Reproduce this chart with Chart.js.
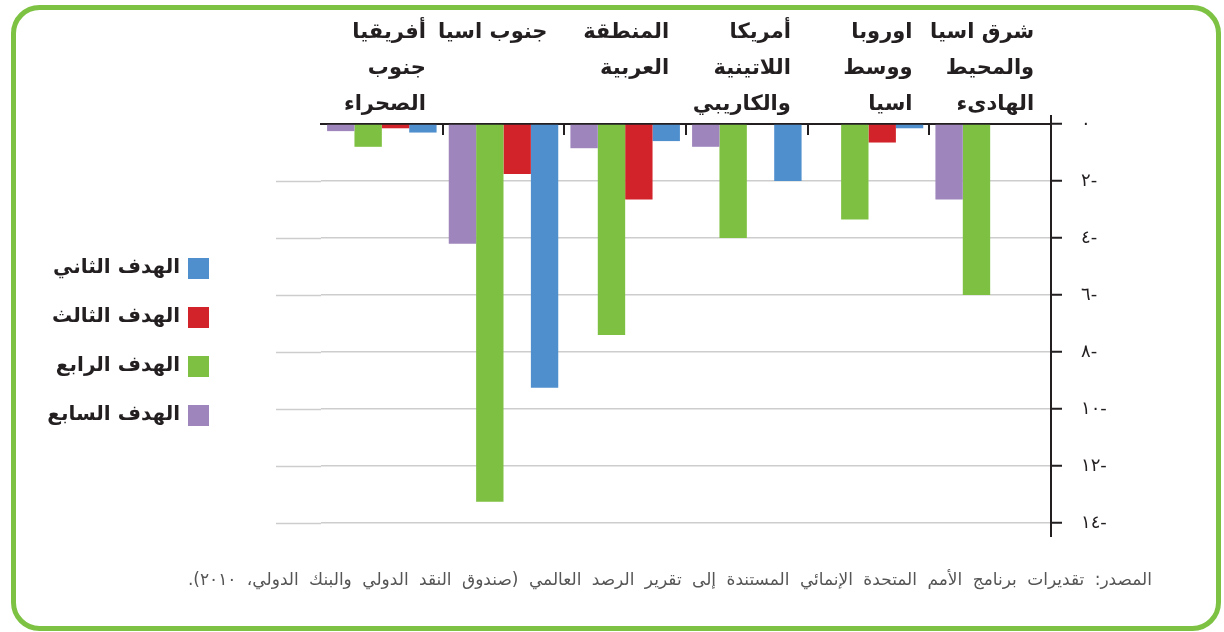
<!DOCTYPE html>
<html lang="ar">
<head>
<meta charset="UTF-8">
<title>الأهداف حسب المنطقة</title>
<style>
  html, body { margin: 0; padding: 0; background: #fff; }
</style>
</head>
<body>
<canvas id="goalsChart" width="1224" height="632"></canvas>

<script src="https://cdn.jsdelivr.net/npm/chart.js"></script>
<script>
// regions, left to right on the chart (each entry = label lines)
const regions = [
  ['أفريقيا', 'جنوب', 'الصحراء'],
  ['جنوب اسيا'],
  ['المنطقة', 'العربية'],
  ['أمريكا', 'اللاتينية', 'والكاريبي'],
  ['اوروبا', 'ووسط', 'اسيا'],
  ['شرق اسيا', 'والمحيط', 'الهادىء']
];

const goal7 = [-0.25, -4.2, -0.85, -0.8, 0, -2.65];
const goal4 = [-0.8, -13.25, -7.4, -4.0, -3.35, -6.0];
const goal3 = [-0.15, -1.75, -2.65, 0, -0.65, 0];
const goal2 = [-0.3, -9.25, -0.6, -2.0, -0.15, 0];

const seriesNames = ['الهدف السابع', 'الهدف الرابع', 'الهدف الثالث', 'الهدف الثاني'];
const seriesColors = ['#9e86bd', '#7ec142', '#d2232a', '#4f8fce'];

const yTickLabels = ['٠', '٢-', '٤-', '٦-', '٨-', '١٠-', '١٢-', '١٤-'];

const sourceNote = 'المصدر: تقديرات برنامج الأمم المتحدة الإنمائي المستندة إلى تقرير الرصد العالمي (صندوق النقد الدولي والبنك الدولي، ٢٠١٠).';

const arabicFont = '"DejaVu Sans", sans-serif';
const ink = '#231f20';

// extra drawing: frame, legend, region labels, separators, note
const extras = {
  id: 'extras',
  beforeDraw(chart) {
    const c = chart.ctx;
    c.save();
    c.fillStyle = '#fff';
    c.fillRect(0, 0, chart.width, chart.height);
    c.restore();
  },
  beforeDatasetsDraw(chart) {
    // horizontal gridlines run a bit past the first group
    const { ctx: c, chartArea, scales: { y } } = chart;
    c.save();
    c.strokeStyle = '#cdcdcd';
    c.lineWidth = 1.5;
    y.ticks.forEach(t => {
      if (t.value === 0) return;
      const py = Math.round(y.getPixelForValue(t.value)) + 0.5;
      c.beginPath();
      c.moveTo(chartArea.left - 45, py);
      c.lineTo(chartArea.left, py);
      c.stroke();
    });
    c.restore();
  },
  afterDraw(chart) {
    const { ctx: c, chartArea, scales: { x } } = chart;
    c.save();

    // short separators between region groups
    c.strokeStyle = ink;
    c.lineWidth = 2;
    for (let i = 1; i < regions.length; i++) {
      const px = Math.round((x.getPixelForValue(i - 1) + x.getPixelForValue(i)) / 2);
      c.beginPath();
      c.moveTo(px, chartArea.top);
      c.lineTo(px, chartArea.top + 11);
      c.stroke();
    }

    // value axis sticks out above and below the plot
    c.beginPath();
    c.moveTo(chartArea.right, chartArea.top - 9);
    c.lineTo(chartArea.right, chartArea.top);
    c.moveTo(chartArea.right, chartArea.bottom);
    c.lineTo(chartArea.right, chartArea.bottom + 14);
    c.stroke();

    // region names above the groups
    c.direction = 'rtl';
    c.fillStyle = ink;
    c.font = 'bold 21px ' + arabicFont;
    c.textAlign = 'right';
    c.textBaseline = 'alphabetic';
    regions.forEach((lines, i) => {
      const px = x.getPixelForValue(i) + 44;
      lines.forEach((line, j) => c.fillText(line, px, 38 + j * 36));
    });

    // legend, box on the right of each name
    c.font = 'bold 20px ' + arabicFont;
    const order = [3, 2, 1, 0];
    order.forEach((k, row) => {
      const top = 258 + row * 49;
      c.fillStyle = seriesColors[k];
      c.fillRect(188, top, 21, 21);
      c.fillStyle = ink;
      c.textBaseline = 'middle';
      c.fillText(seriesNames[k], 180, top + 10);
    });

    // source note
    c.font = '17px ' + arabicFont;
    c.wordSpacing = '5px';
    c.fillStyle = '#555';
    c.textBaseline = 'alphabetic';
    c.fillText(sourceNote, 1152, 585);
    c.wordSpacing = '0px';

    // rounded green frame
    c.strokeStyle = '#7dc242';
    c.lineWidth = 5;
    c.beginPath();
    c.roundRect(13.5, 7.5, 1205, 621, 26);
    c.stroke();

    c.restore();
  }
};

const goalsChart = new Chart(document.getElementById('goalsChart'), {
  type: 'bar',
  data: {
    labels: regions,
    datasets: [
      { label: seriesNames[0], data: goal7, backgroundColor: seriesColors[0] },
      { label: seriesNames[1], data: goal4, backgroundColor: seriesColors[1] },
      { label: seriesNames[2], data: goal3, backgroundColor: seriesColors[2] },
      { label: seriesNames[3], data: goal2, backgroundColor: seriesColors[3] }
    ]
  },
  options: {
    responsive: false,
    animation: false,
    devicePixelRatio: 1,
    layout: { padding: { left: 321, right: 0, top: 0, bottom: 109 } },
    datasets: {
      bar: { categoryPercentage: 0.9, barPercentage: 1.0, borderWidth: 0 }
    },
    plugins: {
      legend: { display: false },
      tooltip: { enabled: false }
    },
    scales: {
      x: {
        position: 'top',
        offset: true,
        z: 1,
        grid: { display: false },
        border: { display: true, color: ink, width: 2 },
        ticks: { display: false },
        afterFit(scale) { scale.height = 124; }
      },
      y: {
        position: 'right',
        min: -14,
        max: 0,
        ticks: {
          stepSize: 2,
          padding: 19,
          color: ink,
          font: { family: arabicFont, size: 18 },
          // LRO keeps the digits on the left and the minus on the right
          callback: v => '\u202D' + yTickLabels[Math.round(-v / 2)] + '\u202C'
        },
        grid: {
          color: c => c.tick && c.tick.value === 0 ? 'rgba(0,0,0,0)' : '#cdcdcd',
          lineWidth: 1.5,
          tickLength: 11,
          tickColor: ink,
          tickWidth: 2
        },
        border: { color: ink, width: 2 },
        afterFit(scale) { scale.width = 173; }
      }
    }
  },
  plugins: [extras]
});
</script>
</body>
</html>
